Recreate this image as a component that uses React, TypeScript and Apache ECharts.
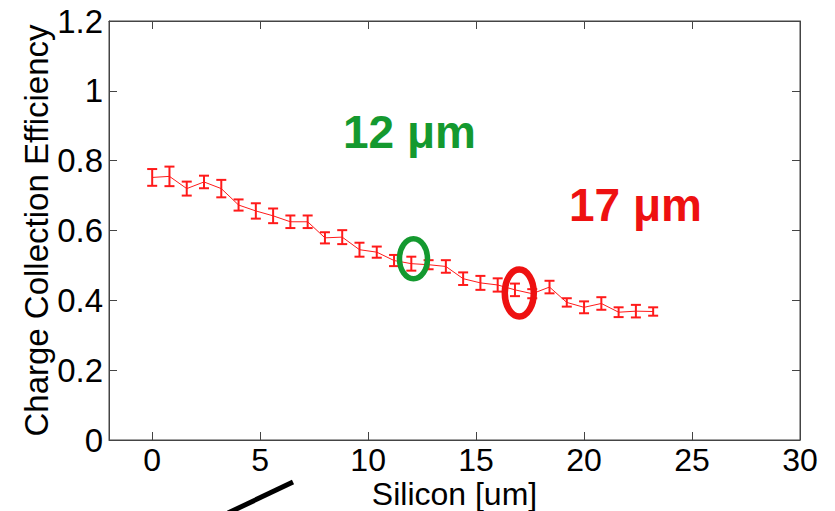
import React, { useEffect, useRef } from "react";
import * as echarts from "echarts";

// Depth into the silicon (µm) and measured charge collection efficiency
const depthUm = [
  0, 0.8, 1.6, 2.4, 3.2, 4.0, 4.8, 5.6, 6.4, 7.2, 8.0, 8.8, 9.6, 10.4, 11.2,
  12.0, 12.8, 13.6, 14.4, 15.2, 16.0, 16.8, 17.6, 18.4, 19.2, 20.0, 20.8, 21.6,
  22.4, 23.2,
];
const cce = [
  0.752, 0.755, 0.72, 0.739, 0.72, 0.673, 0.656, 0.642, 0.625, 0.625, 0.579,
  0.581, 0.545, 0.538, 0.514, 0.505, 0.502, 0.497, 0.462, 0.45, 0.444, 0.43,
  0.419, 0.438, 0.394, 0.38, 0.391, 0.366, 0.369, 0.368,
];
const cceErr = [
  0.024, 0.028, 0.02, 0.018, 0.025, 0.016, 0.022, 0.021, 0.018, 0.018, 0.016,
  0.02, 0.02, 0.016, 0.016, 0.02, 0.013, 0.018, 0.018, 0.02, 0.019, 0.018,
  0.013, 0.018, 0.012, 0.017, 0.018, 0.014, 0.018, 0.012,
];

// Highlighted depths: [x, y] centre of each marker ring
const markerLabels = ["12 μm", "17 μm"];
const markerCenters = [
  [12.1, 0.519],
  [17.0, 0.421],
];
const markerColors = ["#14992f", "#ee1111"];

const xTicks = [0, 5, 10, 15, 20, 25, 30];
const yTicks = [0, 0.2, 0.4, 0.6, 0.8, 1, 1.2];

const RED = "#ff1a1a";
const FRAME = "#444444";

export default function App() {
  const ref = useRef<HTMLDivElement>(null);

  useEffect(() => {
    if (!ref.current) return;
    const chart = echarts.init(ref.current, undefined, { renderer: "svg" });

    const lineData = depthUm.map((x, i) => [x, cce[i]]);
    const errData = depthUm.map((x, i) => [x, cce[i], cceErr[i]]);
    const ringData = markerCenters.map((c, i) => [c[0], c[1], i]);

    const fontFamily = "'Liberation Sans', Arial, sans-serif";
    const tickLabel = {
      color: "#000",
      fontSize: 33,
      fontFamily,
    };
    const tickStyle = {
      show: true,
      inside: true,
      length: 8,
      lineStyle: { color: FRAME },
    };
    const lineStyle = { show: true, onZero: false, lineStyle: { color: FRAME } };

    chart.setOption({
      animation: false,
      backgroundColor: "#ffffff",
      grid: {
        left: 109,
        right: 35,
        top: 21,
        bottom: 71,
        outerBoundsMode: "none",
        containLabel: false,
        show: true,
        borderColor: FRAME,
        borderWidth: 1,
      },
      xAxis: [
        {
          type: "value",
          min: -2,
          max: 30,
          position: "bottom",
          name: "Silicon [um]",
          nameLocation: "middle",
          nameGap: 40,
          nameMoveOverlap: false,
          nameTextStyle: {
            color: "#000",
            fontSize: 32,
            lineHeight: 27,
            fontFamily,
          },
          axisLine: lineStyle,
          axisTick: { ...tickStyle, customValues: xTicks },
          axisLabel: {
            ...tickLabel,
            fontSize: 32,
            lineHeight: 27,
            margin: 6,
            customValues: xTicks,
            formatter: (v: number) => String(v),
          },
          splitLine: { show: false },
        },
        {
          type: "value",
          min: -2,
          max: 30,
          position: "top",
          axisLine: lineStyle,
          axisTick: { ...tickStyle, customValues: xTicks },
          axisLabel: { show: false },
          splitLine: { show: false },
        },
      ],
      yAxis: [
        {
          type: "value",
          min: 0,
          max: 1.2,
          interval: 0.2,
          position: "left",
          name: "Charge Collection Efficiency",
          nameLocation: "middle",
          nameGap: 56,
          nameMoveOverlap: false,
          nameTextStyle: { color: "#000", fontSize: 33, fontFamily },
          axisLine: lineStyle,
          axisTick: { ...tickStyle, customValues: yTicks },
          axisLabel: {
            ...tickLabel,
            margin: 6,
            customValues: yTicks,
            formatter: (v: number) => String(+v.toFixed(1)),
          },
          splitLine: { show: false },
        },
        {
          type: "value",
          min: 0,
          max: 1.2,
          interval: 0.2,
          position: "right",
          axisLine: lineStyle,
          axisTick: { ...tickStyle, customValues: yTicks },
          axisLabel: { show: false },
          splitLine: { show: false },
        },
      ],
      series: [
        {
          type: "line",
          data: lineData,
          xAxisIndex: 0,
          yAxisIndex: 0,
          showSymbol: false,
          symbol: "none",
          lineStyle: { color: RED, width: 1 },
          z: 2,
        },
        {
          type: "custom",
          data: errData,
          xAxisIndex: 0,
          yAxisIndex: 0,
          z: 3,
          renderItem: (_params: any, api: any) => {
            const x = api.value(0);
            const y = api.value(1);
            const e = api.value(2);
            const top = api.coord([x, y + e]);
            const bot = api.coord([x, y - e]);
            const half = 5;
            const style = { stroke: RED, lineWidth: 2 };
            return {
              type: "group",
              children: [
                {
                  type: "line",
                  shape: { x1: top[0], y1: top[1], x2: bot[0], y2: bot[1] },
                  style,
                },
                {
                  type: "line",
                  shape: {
                    x1: top[0] - half,
                    y1: top[1],
                    x2: top[0] + half,
                    y2: top[1],
                  },
                  style,
                },
                {
                  type: "line",
                  shape: {
                    x1: bot[0] - half,
                    y1: bot[1],
                    x2: bot[0] + half,
                    y2: bot[1],
                  },
                  style,
                },
              ],
            };
          },
        },
        {
          type: "custom",
          data: ringData,
          xAxisIndex: 0,
          yAxisIndex: 0,
          z: 4,
          renderItem: (_params: any, api: any) => {
            const c = api.coord([api.value(0), api.value(1)]);
            const idx = api.value(2);
            const big = idx === 1;
            return {
              type: "ellipse",
              shape: {
                cx: c[0],
                cy: c[1],
                rx: big ? 14.5 : 14,
                ry: big ? 23.5 : 20,
              },
              style: {
                fill: "none",
                stroke: markerColors[idx],
                lineWidth: big ? 6.5 : 5.5,
              },
            };
          },
        },
      ],
      graphic: [
        {
          type: "text",
          left: 343,
          top: 109,
          style: {
            text: markerLabels[0],
            fill: markerColors[0],
            font: `bold 46px ${fontFamily}`,
          },
        },
        {
          type: "text",
          left: 569,
          top: 182,
          style: {
            text: markerLabels[1],
            fill: markerColors[1],
            font: `bold 46px ${fontFamily}`,
          },
        },
        {
          type: "line",
          shape: { x1: 228, y1: 513, x2: 293, y2: 482 },
          style: { stroke: "#000", lineWidth: 5 },
          z: 10,
        },
      ],
    });

    return () => chart.dispose();
  }, []);

  return (
    <div
      ref={ref}
      style={{ width: 835, height: 511, position: "fixed", left: 0, top: 0 }}
    />
  );
}
